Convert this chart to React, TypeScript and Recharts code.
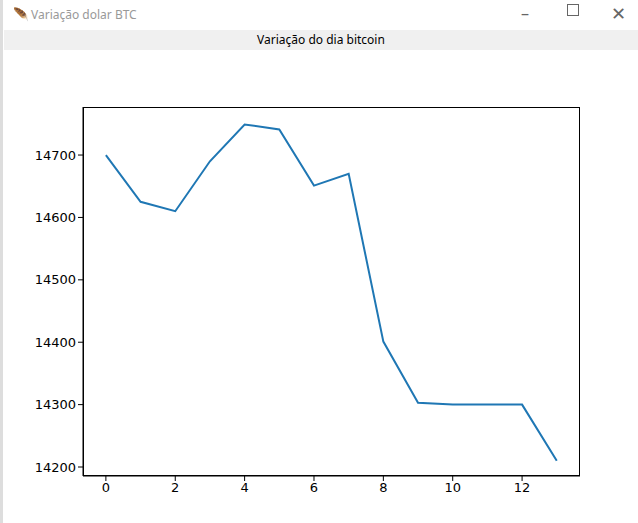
import React from 'react';
import { LineChart, Line, XAxis, YAxis } from 'recharts';

const steps = [0, 1, 2, 3, 4, 5, 6, 7, 8, 9, 10, 11, 12, 13];
const prices = [14700, 14625, 14610, 14690, 14749, 14741, 14651, 14670, 14401, 14303, 14300, 14300, 14300, 14210];
const xTicks = [0, 2, 4, 6, 8, 10, 12];
const yTicks = [14200, 14300, 14400, 14500, 14600, 14700];

const data = steps.map((s, i) => ({ s, price: prices[i] }));

const tick = { fill: '#000', fontSize: 13, fontFamily: 'DejaVu Sans' };

const App: React.FC = () => {
  return (
    <div style={{ position: 'absolute', left: 0, top: 0, width: 638, height: 523, background: '#fff', fontFamily: 'Segoe UI, Noto Sans, sans-serif', overflow: 'hidden' }}>
      <div style={{ position: 'absolute', left: 0, top: 0, width: 638, height: 30, background: '#fff' }}>
        <span style={{ position: 'absolute', left: 13, top: 5, fontSize: 13, color: '#888' }}>🪶</span>
        <span style={{ position: 'absolute', left: 31, top: 6, fontSize: 12, color: '#999' }}>Variação dolar BTC</span>
        <span style={{ position: 'absolute', left: 521, top: 2, fontSize: 16, color: '#666' }}>–</span>
        <span style={{ position: 'absolute', left: 567, top: 4, width: 10, height: 10, border: '1px solid #666' }} />
        <span style={{ position: 'absolute', left: 611, top: 1, fontSize: 18, color: '#666' }}>✕</span>
      </div>
      <div style={{ position: 'absolute', left: 4, top: 30, width: 634, height: 20, background: '#f0f0f0', textAlign: 'center', fontSize: 12, lineHeight: '20px', color: '#000' }}>
        Variação do dia bitcoin
      </div>
      <div style={{ position: 'absolute', left: 0, top: 0, width: 3, height: 523, background: '#ddd' }} />
      <div style={{ position: 'absolute', left: 0, top: 0 }}>
        <LineChart width={638} height={523} data={data} margin={{ top: 107, right: 58, bottom: 27, left: 23 }}>
          <XAxis dataKey="s" type="number" domain={[-0.66, 13.67]} ticks={xTicks} allowDataOverflow
            tick={tick} tickLine={{ stroke: '#000' }} tickSize={5} axisLine={{ stroke: '#000' }} height={20} />
          <YAxis type="number" domain={[14185.6, 14777]} ticks={yTicks} allowDataOverflow
            tick={tick} tickLine={{ stroke: '#000' }} tickSize={5} axisLine={{ stroke: '#000' }} width={60} />
          <Line dataKey="price" stroke="#1f77b4" strokeWidth={2} dot={false} isAnimationActive={false} />
        </LineChart>
      </div>
      <div style={{ position: 'absolute', left: 83, top: 107, width: 497, height: 369, border: '1px solid #000', boxSizing: 'border-box', pointerEvents: 'none' }} />
    </div>
  );
};

export default App;
